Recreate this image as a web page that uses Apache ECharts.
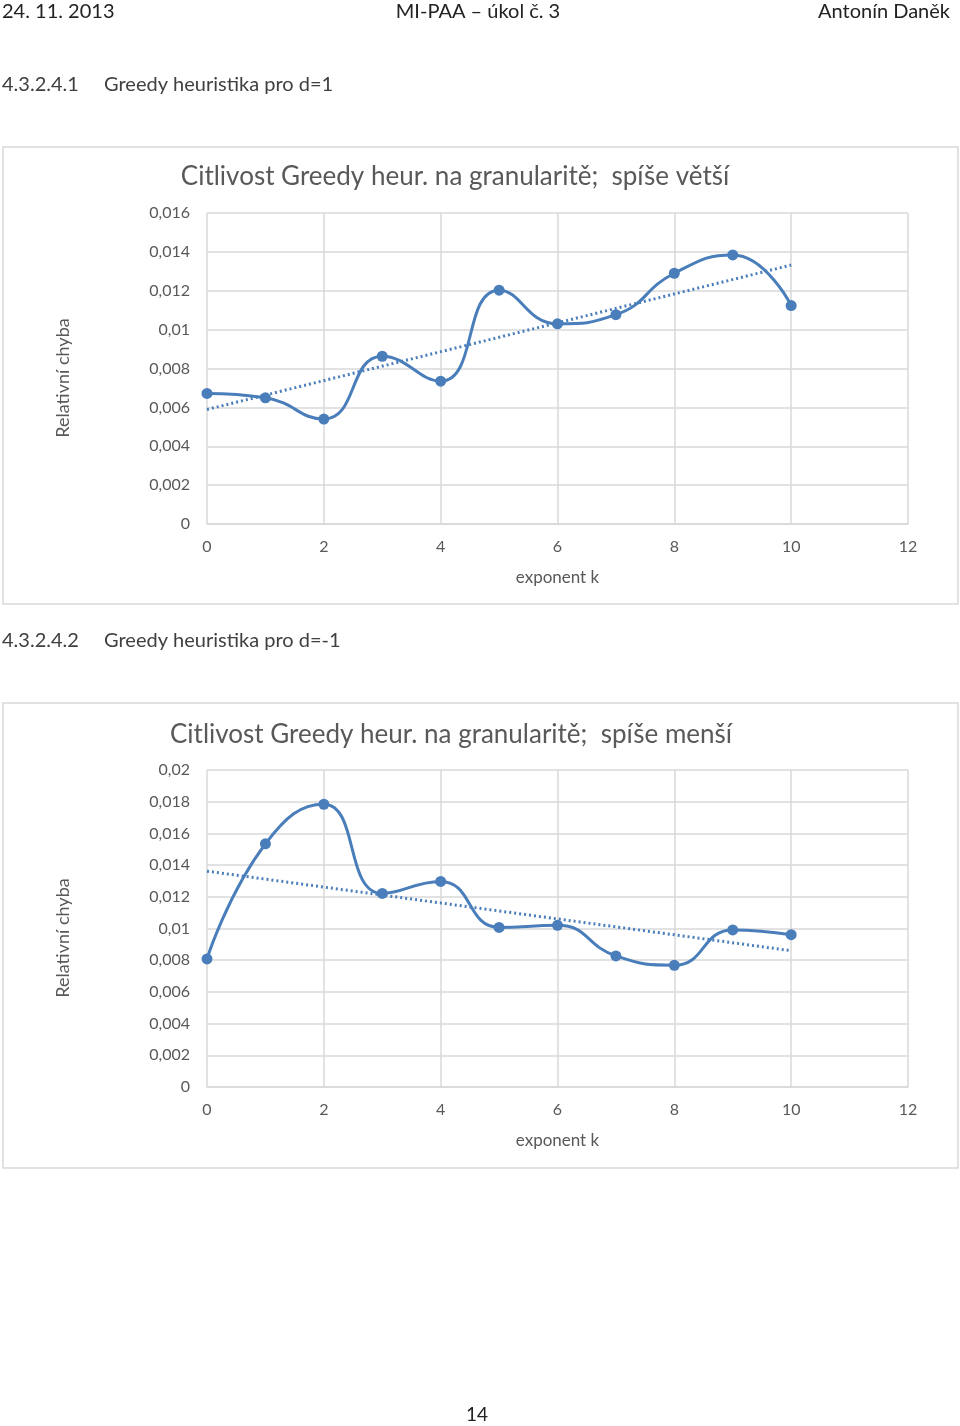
<!DOCTYPE html>
<html><head><meta charset="utf-8">
<script src="https://cdn.jsdelivr.net/npm/echarts@6/dist/echarts.min.js"></script>
<style>html,body{margin:0;padding:0;background:#fff}#c{width:960px;height:1426px}</style>
</head><body><div id="c"></div>
<script>
const kValues = [0,1,2,3,4,5,6,7,8,9,10];
const errorsD1 = [0.00672,0.00649,0.0054,0.00863,0.00735,0.01203,0.0103,0.01077,0.0129,0.01384,0.01124];
const errorsDm1 = [0.00808,0.01534,0.01784,0.01221,0.01297,0.01007,0.0102,0.00827,0.00768,0.00991,0.00961];
const xTicks = [0,2,4,6,8,10,12];
const title1 = 'Citlivost Greedy heur. na granularitě;  spíše větší';
const title2 = 'Citlivost Greedy heur. na granularitě;  spíše menší';
const yName = 'Relativní chyba';
const xName = 'exponent k';

function trend(xs, ys){
  const n = xs.length;
  const mx = xs.reduce((a,b)=>a+b,0)/n, my = ys.reduce((a,b)=>a+b,0)/n;
  let sxy=0, sxx=0;
  for(let i=0;i<n;i++){sxy+=(xs[i]-mx)*(ys[i]-my);sxx+=(xs[i]-mx)**2;}
  const b = sxy/sxx, a = my-b*mx;
  const x0 = xs[0], x1 = xs[n-1];
  return [[x0,a+b*x0],[x1,a+b*x1]];
}
const FONT = 'Lato, "Open Sans", sans-serif';
const GREY = '#595959';
const BLUE = '#4a7ebb';
const fmt = v => v===0 ? '0' : String(+v.toFixed(4)).replace('.',',');

function axes(gi, ymax){
  return {
    x: {type:'value', gridIndex:gi, min:xTicks[0], max:xTicks[xTicks.length-1], interval:xTicks[1]-xTicks[0],
      axisLine:{show:true, lineStyle:{color:'#d9d9d9', width:1.5}}, axisTick:{show:false},
      axisLabel:{color:GREY, fontFamily:FONT, fontSize:16, margin:15},
      splitLine:{show:true, lineStyle:{color:'#d9d9d9', width:1.5}},
      name:xName, nameLocation:'middle', nameGap:45,
      nameTextStyle:{color:GREY, fontFamily:FONT, fontSize:17}},
    y: {type:'value', gridIndex:gi, min:0, max:ymax, interval:0.002,
      axisLine:{show:false}, axisTick:{show:false},
      axisLabel:{color:GREY, fontFamily:FONT, fontSize:16, margin:17, formatter:fmt},
      splitLine:{show:true, lineStyle:{color:'#d9d9d9', width:1.5}}}
  };
}
const a1 = axes(0, 0.016), a2 = axes(1, 0.02);
function pts(ys){ return kValues.map((x,i)=>[x, ys[i]]); }
function lineSeries(ys, gi){
  return {type:'line', xAxisIndex:gi, yAxisIndex:gi, data:pts(ys), smooth:0.5,
    symbol:'circle', symbolSize:11, lineStyle:{color:BLUE, width:3},
    itemStyle:{color:BLUE}, z:3};
}
function trendSeries(ys, gi){
  return {type:'line', xAxisIndex:gi, yAxisIndex:gi, data:trend(kValues, ys),
    symbol:'none', lineStyle:{color:BLUE, width:3, type:[2,3]}, z:2};
}
function txt(x,y,text,size,color,align,extra){
  return Object.assign({type:'text', x:x, y:y, style:{text:text, fontFamily:FONT, fontSize:size,
    fill:color, textAlign:align||'left', textVerticalAlign:'middle'}}, extra||{});
}
const chart = echarts.init(document.getElementById('c'));
chart.setOption({
  animation:false,
  backgroundColor:'#fff',
  grid:[{left:207, right:52, top:213, height:311},{left:207, right:52, top:770, height:317}],
  xAxis:[a1.x, a2.x],
  yAxis:[a1.y, a2.y],
  series:[lineSeries(errorsD1,0), trendSeries(errorsD1,0), lineSeries(errorsDm1,1), trendSeries(errorsDm1,1)],
  graphic:[
    {type:'rect', shape:{x:3, y:147, width:955, height:457}, style:{fill:'none', stroke:'#d9d9d9', lineWidth:1.5}, z:-1},
    {type:'rect', shape:{x:3, y:703, width:955, height:465}, style:{fill:'none', stroke:'#d9d9d9', lineWidth:1.5}, z:-1},
    txt(2,12,'24. 11. 2013',20,'#222'),
    txt(478,12,'MI-PAA – úkol č. 3',20,'#222','center'),
    txt(950,12,'Antonín Daněk',20,'#222','right'),
    txt(2,85,'4.3.2.4.1',20,'#404040'),
    txt(104,85,'Greedy heuristika pro d=1',20,'#404040'),
    txt(2,641,'4.3.2.4.2',20,'#404040'),
    txt(104,641,'Greedy heuristika pro d=-1',20,'#404040'),
    txt(455,177,title1,26,GREY,'center'),
    txt(451,735,title2,26,GREY,'center'),
    txt(63,378,yName,18,GREY,'center',{rotation:Math.PI/2}),
    txt(63,938,yName,18,GREY,'center',{rotation:Math.PI/2}),
    txt(477,1415,'14',19,'#222','center')
  ]
});
</script></body></html>
